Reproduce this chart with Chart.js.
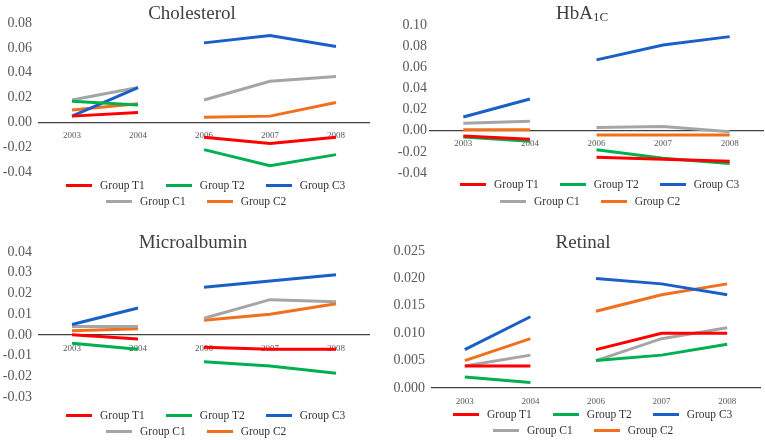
<!DOCTYPE html>
<html>
<head>
<meta charset="utf-8">
<script src="https://cdn.jsdelivr.net/npm/chart.js@4.4.1/dist/chart.umd.min.js"></script>
<style>
  body { margin: 0; background: #fff; }
  #wrap { position: relative; width: 765px; height: 440px; overflow: hidden; font-family: "Liberation Serif", "Times New Roman", serif; }
  canvas { position: absolute; }
  .title { position: absolute; font-size: 19px; color: #404040; white-space: nowrap; transform: translate(-50%, -50%); line-height: 1; }
  .title sub { font-size: 13px; vertical-align: -2px; line-height: 0; }
  .lrow { position: absolute; display: flex; align-items: center; height: 14px; transform: translateY(-50%); font-size: 11.5px; color: #333; white-space: nowrap; }
  .item { display: flex; align-items: center; margin-right: 21px; }
  .swatch { width: 26px; height: 3px; margin-right: 8px; }
</style>
</head>
<body>
<div id="wrap"></div>
<script>
const years = ['2003', '2004', '2006', '2007', '2008'];
const groups = ['Group T1', 'Group T2', 'Group C3', 'Group C1', 'Group C2'];
const colors = ['#ff0000', '#00b050', '#1a5fc8', '#a5a5a5', '#f0701e'];

// Cholesterol
const cholT1 = [0.005, 0.008, -0.012, -0.017, -0.012];
const cholT2 = [0.017, 0.014, -0.022, -0.035, -0.026];
const cholC3 = [0.005, 0.028, 0.064, 0.070, 0.061];
const cholC1 = [0.018, 0.028, 0.018, 0.033, 0.037];
const cholC2 = [0.010, 0.015, 0.004, 0.005, 0.016];

// HbA1C
const hbaT1 = [-0.005, -0.008, -0.025, -0.027, -0.029];
const hbaT2 = [-0.006, -0.010, -0.018, -0.026, -0.031];
const hbaC3 = [0.013, 0.030, 0.067, 0.081, 0.089];
const hbaC1 = [0.007, 0.009, 0.003, 0.004, -0.001];
const hbaC2 = [0.001, 0.001, -0.004, -0.004, -0.004];

// Microalbumin
const microT1 = [0.000, -0.002, -0.006, -0.007, -0.007];
const microT2 = [-0.004, -0.007, -0.013, -0.015, -0.0185];
const microC3 = [0.005, 0.013, 0.023, 0.026, 0.029];
const microC1 = [0.004, 0.004, 0.008, 0.017, 0.016];
const microC2 = [0.002, 0.003, 0.007, 0.010, 0.015];

// Retinal
const retT1 = [0.004, 0.004, 0.007, 0.010, 0.010];
const retT2 = [0.002, 0.001, 0.005, 0.006, 0.008];
const retC3 = [0.007, 0.013, 0.020, 0.019, 0.017];
const retC1 = [0.004, 0.006, 0.005, 0.009, 0.011];
const retC2 = [0.005, 0.009, 0.014, 0.017, 0.019];

const panels = [
  { title: 'Cholesterol', series: [cholT1, cholT2, cholC3, cholC1, cholC2],
    min: -0.04, max: 0.08, step: 0.02, dec: 2,
    left: 0, top: 0, w: 380, h: 188, pad: { top: 23, bottom: 16, left: 0, right: 11 }, yW: 39, yPad: 7,
    tx: 192, ty: 12, rows: [185, 201], rowX: 66 },
  { title: 'HbA<sub>1C</sub>', series: [hbaT1, hbaT2, hbaC3, hbaC1, hbaC2],
    min: -0.04, max: 0.10, step: 0.02, dec: 2,
    left: 380, top: 0, w: 385, h: 185, pad: { top: 25, bottom: 12, left: 0, right: 2 }, yW: 50, yPad: 3,
    tx: 202, ty: 12, rows: [184, 201], rowX: 80 },
  { title: 'Microalbumin', series: [microT1, microT2, microC3, microC1, microC2],
    min: -0.03, max: 0.04, step: 0.01, dec: 2,
    left: 0, top: 220, w: 380, h: 193, pad: { top: 32, bottom: 16, left: 0, right: 11 }, yW: 39, yPad: 7,
    tx: 193, ty: 21, rows: [195, 211], rowX: 66 },
  { title: 'Retinal', series: [retT1, retT2, retC3, retC1, retC2],
    min: 0, max: 0.025, step: 0.005, dec: 3,
    left: 380, top: 220, w: 385, h: 190, pad: { top: 31, bottom: 22, left: 0, right: 5 }, yW: 52, yPad: 7,
    tx: 203, ty: 21, rows: [194, 210], rowX: 73 }
];

const wrap = document.getElementById('wrap');

panels.forEach(p => {
  const canvas = document.createElement('canvas');
  canvas.width = p.w;
  canvas.height = p.h;
  canvas.style.left = p.left + 'px';
  canvas.style.top = p.top + 'px';
  wrap.appendChild(canvas);

  const title = document.createElement('div');
  title.className = 'title';
  title.innerHTML = p.title;
  title.style.left = (p.left + p.tx) + 'px';
  title.style.top = (p.top + p.ty) + 'px';
  wrap.appendChild(title);

  // legend in two rows: T1 T2 C3 / C1 C2
  [[0, 1, 2], [3, 4]].forEach((idx, r) => {
    const row = document.createElement('div');
    row.className = 'lrow';
    row.style.left = (p.left + p.rowX + r * 40) + 'px';
    row.style.top = (p.top + p.rows[r]) + 'px';
    idx.forEach(i => {
      const item = document.createElement('div');
      item.className = 'item';
      item.innerHTML = '<span class="swatch" style="background:' + colors[i] + '"></span><span>' + groups[i] + '</span>';
      row.appendChild(item);
    });
    wrap.appendChild(row);
  });

  new Chart(canvas.getContext('2d'), {
    type: 'line',
    data: {
      labels: years,
      datasets: p.series.map((d, i) => ({
        label: groups[i],
        data: d,
        borderColor: colors[i],
        borderWidth: 3,
        pointRadius: 0,
        tension: 0,
        // no line between 2004 and 2006
        segment: { borderColor: c => c.p0DataIndex === 1 ? 'rgba(0,0,0,0)' : undefined }
      }))
    },
    options: {
      responsive: false,
      animation: false,
      devicePixelRatio: 1,
      layout: { padding: p.pad },
      plugins: { legend: { display: false }, tooltip: { enabled: false } },
      scales: {
        x: {
          position: { y: 0 },
          offset: true,
          grid: { display: false, drawTicks: false },
          border: { display: true, color: '#404040', width: 1.3 },
          ticks: { color: '#595959', font: { family: 'Liberation Serif', size: 9 }, padding: 8, maxRotation: 0, autoSkip: false }
        },
        y: {
          min: p.min,
          max: p.max,
          grid: { display: false, drawTicks: false },
          border: { display: false },
          afterFit: s => { s.width = p.yW; },
          ticks: {
            stepSize: p.step,
            padding: p.yPad,
            color: '#595959',
            font: { family: 'Liberation Serif', size: 14 },
            callback: v => (Math.abs(v) < 1e-9 ? 0 : v).toFixed(p.dec)
          }
        }
      }
    }
  });
});
</script>
</body>
</html>
